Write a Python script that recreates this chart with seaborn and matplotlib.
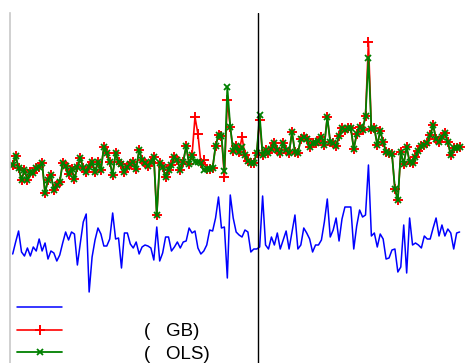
import numpy as np
import matplotlib
matplotlib.use("Agg")
import matplotlib.pyplot as plt
import seaborn as sns

# ---- data ----
actual = [109, 121, 132, 111, 107, 115, 107, 116, 112, 124,
          112, 120, 104, 112, 110, 102, 108, 120, 131, 123,
          131, 129, 98, 120, 141, 149, 71, 106, 123, 135,
          129, 117, 117, 124, 150, 124, 125, 95, 130, 130,
          119, 115, 121, 109, 116, 118, 117, 115, 103, 136,
          102, 110, 126, 126, 112, 116, 121, 115, 121, 122,
          135, 130, 132, 115, 109, 112, 118, 133, 132, 145,
          166, 135, 136, 85, 168, 145, 131, 128, 126, 133,
          131, 111, 114, 114, 116, 167, 118, 114, 126, 118,
          130, 114, 123, 132, 114, 131, 148, 114, 118, 135,
          130, 124, 111, 118, 118, 123, 141, 164, 126, 133,
          145, 122, 144, 156, 156, 156, 114, 137, 153, 146,
          148, 198, 127, 130, 116, 129, 124, 104, 105, 113,
          114, 91, 96, 138, 90, 145, 118, 120, 118, 115,
          127, 124, 124, 135, 145, 127, 138, 127, 134, 130,
          114, 130, 131]

pred_ols = [198, 207, 195, 183, 193, 183, 191, 190, 195, 196,
            200, 170, 183, 188, 173, 178, 181, 200, 197, 189,
            194, 184, 196, 205, 195, 191, 196, 201, 191, 201,
            193, 216, 210, 201, 188, 210, 201, 199, 191, 196,
            199, 201, 194, 213, 203, 200, 197, 201, 206, 148,
            200, 196, 186, 193, 198, 206, 203, 193, 201, 217,
            199, 208, 201, 201, 200, 193, 194, 194, 195, 217,
            228, 227, 192, 276, 236, 212, 217, 211, 216, 208,
            202, 200, 200, 210, 248, 208, 213, 210, 214, 220,
            213, 210, 220, 213, 210, 231, 211, 210, 224, 226,
            224, 216, 220, 220, 222, 226, 218, 246, 221, 220,
            217, 227, 235, 233, 235, 235, 214, 229, 236, 233,
            247, 305, 234, 235, 218, 232, 221, 211, 210, 209,
            174, 163, 211, 199, 216, 201, 200, 206, 212, 217,
            218, 220, 228, 238, 224, 221, 226, 230, 221, 208,
            215, 215, 216]

pred_gb = [198, 207, 195, 183, 193, 183, 191, 190, 195, 196,
           200, 170, 183, 188, 173, 178, 181, 200, 197, 189,
           194, 184, 196, 205, 195, 191, 196, 201, 191, 201,
           193, 216, 210, 201, 188, 210, 201, 199, 191, 196,
           199, 201, 194, 213, 203, 200, 197, 201, 206, 148,
           200, 196, 186, 193, 198, 206, 203, 193, 201, 217,
           199, 208, 246, 229, 200, 203, 194, 194, 195, 217,
           228, 227, 186, 263, 236, 212, 217, 211, 226, 208,
           202, 200, 200, 210, 243, 208, 213, 210, 214, 220,
           213, 210, 220, 213, 210, 231, 211, 210, 224, 226,
           224, 216, 220, 220, 222, 226, 218, 246, 221, 220,
           217, 227, 235, 233, 235, 235, 214, 229, 236, 233,
           247, 321, 234, 235, 218, 232, 221, 211, 210, 209,
           174, 163, 211, 199, 216, 201, 200, 206, 212, 217,
           218, 220, 228, 238, 224, 221, 226, 230, 221, 208,
           215, 215, 216]

legend_labels = [" ", "(   GB)", "(   OLS)"]
split_at = 83.4

# ---- style ----
sns.set_style("white")
plt.rcParams['font.family'] = ['Liberation Sans', 'DejaVu Sans']

W, H = 465, 363
fig = plt.figure(figsize=(W / 100, H / 100), dpi=100)
ax = fig.add_axes([10 / W, 0, 1 - 10 / W, 1 - 13 / H])

idx = np.arange(len(actual))
sns.lineplot(x=idx, y=actual, ax=ax, color='blue', lw=1.1)
sns.lineplot(x=idx, y=pred_gb, ax=ax, color='red', lw=1.2,
             marker='+', markersize=7, markeredgewidth=1.4,
             markeredgecolor='red')
sns.lineplot(x=idx, y=pred_ols, ax=ax, color='green', lw=1.3,
             marker='x', markersize=4.5, markeredgewidth=1.3,
             markeredgecolor='green')
ax.axvline(split_at, color='black', lw=1)

ax.set_xlim(-0.92, 153.84)
ax.set_ylim(0, 350)
ax.set_xticks([])
ax.set_yticks([])
ax.set_xlabel('')
ax.set_ylabel('')
for s in ['top', 'right', 'bottom']:
    ax.spines[s].set_visible(False)
ax.spines['left'].set_color('#c8c8c8')
ax.spines['left'].set_linewidth(1.2)

handles = ax.lines[:3]
leg = ax.legend(handles, legend_labels, loc='lower left',
                bbox_to_anchor=(7 / 455, 0.0), borderaxespad=0, borderpad=0,
                frameon=False, fontsize=13.5, handlelength=2.4,
                handletextpad=4.35, labelspacing=0.3, numpoints=1)
for t in leg.get_texts():
    t.set_color('black')

fig.savefig('out.png', dpi=100)
